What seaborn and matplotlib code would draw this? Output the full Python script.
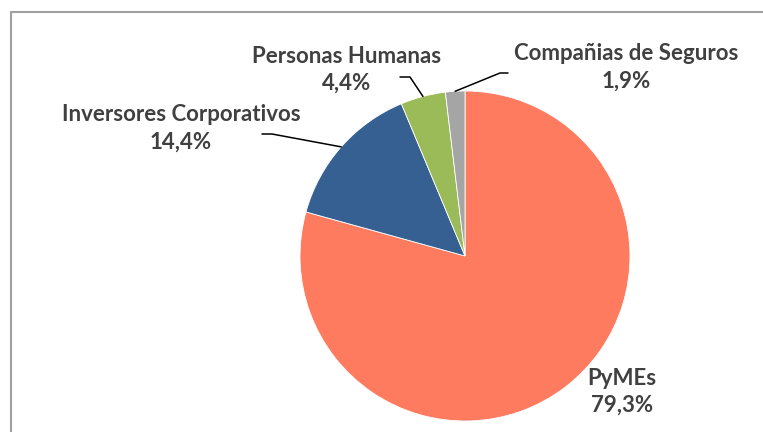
import numpy as np
import matplotlib.pyplot as plt
import seaborn as sns

# shares of the total (%), clockwise from 12 o'clock
segments = ['PyMEs', 'Inversores Corporativos', 'Personas Humanas', 'Compañias de Seguros']
shares = [79.3, 14.4, 4.4, 1.9]
colors = ['#FF7B5F', '#376092', '#9BBB59', '#A5A5A5']

sns.set_theme(style='white')
plt.rcParams['font.family'] = ['Lato', 'DejaVu Sans']

W, H = 763, 432
fig = plt.figure(figsize=(W / 100, H / 100), dpi=100)
ax = fig.add_axes([0, 0, 1, 1])

center = (465, H - 256)
radius = 165
wedges, _ = ax.pie(shares, colors=colors, startangle=90, counterclock=False,
                   center=center, radius=radius, frame=True,
                   wedgeprops=dict(edgecolor='white', linewidth=0.6))
ax.set_xlim(0, W)
ax.set_ylim(0, H)
ax.set_aspect('equal')
ax.axis('off')

# chart frame (cut at the right and bottom in the reference)
ax.plot([11, 11, W], [0, H - 12, H - 12], color='#A0A0A0', lw=1.5, clip_on=False)

# label block centres (pixels from top-left) and leader line elbows
label_pos = [(622, 392), (181, 128.5), (347, 70), (626, 67.5)]
leaders = [None,
           [(262, 134), (272, 134)],
           [(400, 77), (410, 77)],
           [(508, 73), (500, 73)]]

txt_color = '#404040'
for wedge, name, val, (lx, ly), lead in zip(wedges, segments, shares, label_pos, leaders):
    pct = f'{val:.1f}'.replace('.', ',') + '%'
    ax.text(lx, H - ly, f'{name}\n{pct}', ha='center', va='center',
            fontsize=16, fontweight='bold', color=txt_color, linespacing=1.36)
    if lead is not None:
        mid = np.deg2rad((wedge.theta1 + wedge.theta2) / 2)
        ex = center[0] + radius * np.cos(mid)
        ey = center[1] + radius * np.sin(mid)
        xs = [lead[0][0], lead[1][0], ex]
        ys = [H - lead[0][1], H - lead[1][1], ey]
        ax.plot(xs, ys, color='black', lw=1.1)

fig.savefig('out.png', dpi=100)
